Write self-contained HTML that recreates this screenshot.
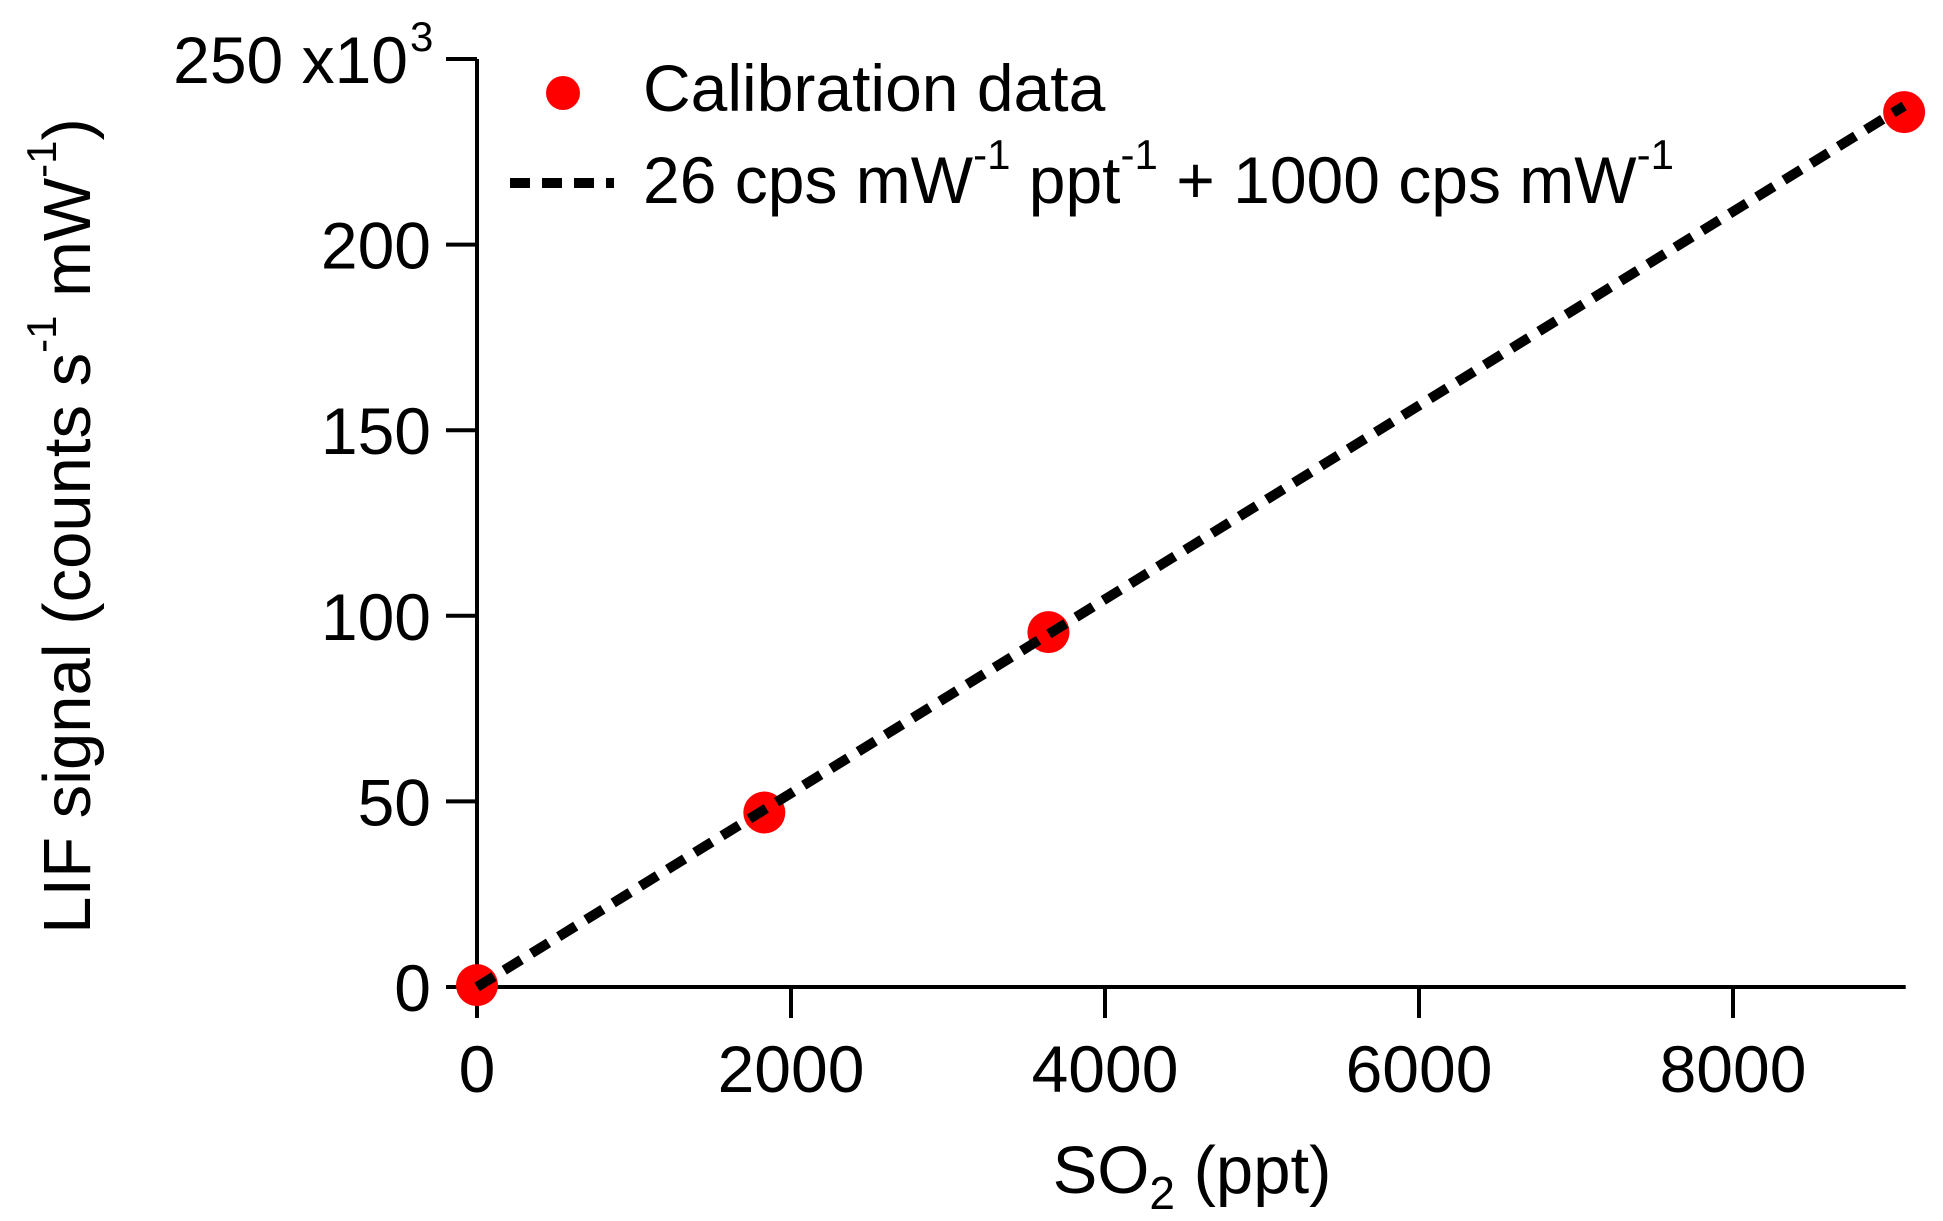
<!DOCTYPE html>
<html><head><meta charset="utf-8"><style>
html,body{margin:0;padding:0;background:#fff;}
svg{display:block;font-family:"Liberation Sans",Arial,sans-serif;}
</style></head><body>
<svg id="chart" width="1943" height="1221" viewBox="0 0 1943 1221">
<g id="axes"></g>
<g id="series"></g>
<g>
  <circle cx="563" cy="93" r="17" fill="#ff0000"/>
  <text x="643" y="111" font-size="66">Calibration data</text>
  <line x1="510" y1="183" x2="614" y2="183" stroke="#000" stroke-width="10" stroke-dasharray="20 12"/>
  <text x="643" y="203" font-size="66">26 cps mW<tspan dy="-34" font-size="42">-1</tspan><tspan dy="34"> ppt</tspan><tspan dy="-34" font-size="42">-1</tspan><tspan dy="34"> + 1000 cps mW</tspan><tspan dy="-34" font-size="42">-1</tspan></text>
</g>
<text transform="translate(90,526) rotate(-90)" text-anchor="middle" font-size="67">LIF signal (counts s<tspan dy="-34" font-size="42">-1</tspan><tspan dy="34"> mW</tspan><tspan dy="-34" font-size="42">-1</tspan><tspan dy="34">)</tspan></text>
<text x="1192" y="1193" text-anchor="middle" font-size="67">SO<tspan dy="16" font-size="46">2</tspan><tspan dy="-16"> (ppt)</tspan></text>
</svg>
<script>
const xTicks = [0, 2000, 4000, 6000, 8000];
const yTicks = [0, 50, 100, 150, 200, 250];
const so2 = [0, 1830, 3640, 9090];
const lif = [0.5, 47, 95.6, 235.7];
const fitSlope = 0.026;
const fitIntercept = 1;
const xMax = 9100;

const NS = "http://www.w3.org/2000/svg";
const X0 = 477, PX_PER_X = 0.157;
const Y0 = 987, PX_PER_Y = 3.712;
const xs = v => X0 + v * PX_PER_X;
const ys = v => Y0 - v * PX_PER_Y;
function mk(tag, attrs, parent, text) {
  const e = document.createElementNS(NS, tag);
  for (const k in attrs) e.setAttribute(k, attrs[k]);
  if (text !== undefined) e.textContent = text;
  parent.appendChild(e);
  return e;
}
const axes = document.getElementById('axes');
const series = document.getElementById('series');
let el = mk('line', {x1: X0, y1: ys(250), x2: X0, y2: Y0 + 2, stroke: '#000', 'stroke-width': 4}, axes);


el = mk('line', {x1: X0 - 2, y1: Y0, x2: xs(xMax), y2: Y0, stroke: '#000', 'stroke-width': 4}, axes);


yTicks.forEach(v => {
  const y = ys(v);
  const t = mk('line', {x1: X0 - 31, y1: y, x2: X0, y2: y, stroke: '#000', 'stroke-width': 4}, axes);
  
  
  const lab = mk('text', {x: v === 250 ? 408 : 431, y: y + 24, 'text-anchor': 'end', 'font-size': 66}, axes, v === 250 ? '250 x10' : String(v));
  
  
  if (v === 250) {
    const s = mk('text', {x: 410, y: y - 8, 'font-size': 42}, axes, '3');
    
    
  }
});
xTicks.forEach(v => {
  const x = xs(v);
  const t = mk('line', {x1: x, y1: Y0, x2: x, y2: Y0 + 31, stroke: '#000', 'stroke-width': 4}, axes);
  
  
  const lab = mk('text', {x: x, y: 1092, 'text-anchor': 'middle', 'font-size': 66}, axes, String(v));
  
  
});
so2.forEach((v, i) => {
  const c = mk('circle', {cx: xs(v), cy: ys(lif[i]), r: 21, fill: '#ff0000'}, series);
  
  
});
const xEnd = so2[so2.length - 1];
const fit = mk('line', {x1: xs(0), y1: ys(0), x2: xs(xEnd), y2: ys(fitSlope * xEnd + fitIntercept), stroke: '#000', 'stroke-width': 10, 'stroke-dasharray': '20 12'}, series);


</script>
</body></html>
